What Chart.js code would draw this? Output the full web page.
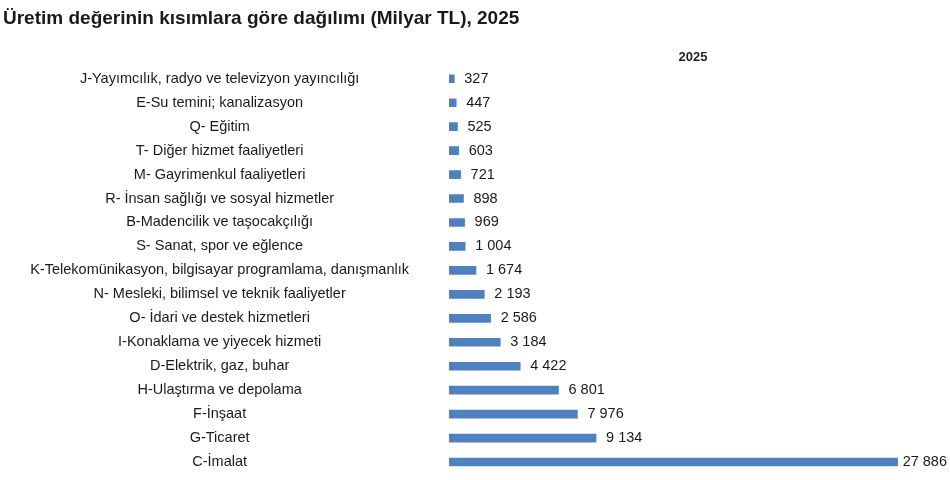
<!DOCTYPE html>
<html>
<head>
<meta charset="utf-8">
<script src="https://cdn.jsdelivr.net/npm/chart.js@4/dist/chart.umd.min.js"></script>
<style>
html,body{margin:0;padding:0;background:#fff;overflow:hidden;}
#wrap{width:950px;height:480px;position:relative;}
</style>
</head>
<body>
<div id="wrap"><canvas id="c"></canvas></div>
<script>
const titleText = 'Üretim değerinin kısımlara göre dağılımı (Milyar TL), 2025';
const seriesName = '2025';
const categories = [
  'J-Yayımcılık, radyo ve televizyon yayıncılığı',
  'E-Su temini; kanalizasyon',
  'Q- Eğitim',
  'T- Diğer hizmet faaliyetleri',
  'M- Gayrimenkul faaliyetleri',
  'R- İnsan sağlığı ve sosyal hizmetler',
  'B-Madencilik ve taşocakçılığı',
  'S- Sanat, spor ve eğlence',
  'K-Telekomünikasyon, bilgisayar programlama, danışmanlık',
  'N- Mesleki, bilimsel ve teknik faaliyetler',
  'O- İdari ve destek hizmetleri',
  'I-Konaklama ve yiyecek hizmeti',
  'D-Elektrik, gaz, buhar',
  'H-Ulaştırma ve depolama',
  'F-İnşaat',
  'G-Ticaret',
  'C-İmalat'
];
const values = [327, 447, 525, 603, 721, 898, 969, 1004, 1674, 2193, 2586, 3184, 4422, 6801, 7976, 9134, 27886];

function fmt(v){
  return String(v).replace(/\B(?=(\d{3})+(?!\d))/g, ' ');
}

const FAMILY = '"Liberation Sans", Arial, sans-serif';
const VALUE_FONT = '14.5px ' + FAMILY;

const valueLabels = {
  id: 'valueLabels',
  afterDatasetsDraw(chart){
    const ctx = chart.ctx;
    const meta = chart.getDatasetMeta(0);
    ctx.save();
    ctx.font = VALUE_FONT;
    ctx.fillStyle = '#1a1a1a';
    ctx.textBaseline = 'middle';
    ctx.textAlign = 'left';
    meta.data.forEach((bar, i) => {
      const t = fmt(chart.data.datasets[0].data[i]);
      const w = ctx.measureText(t).width;
      let x = bar.x + 10;
      x = Math.min(x, chart.width - w - 3);
      ctx.fillText(t, x, bar.y);
    });
    // series header
    ctx.font = 'bold 13px ' + FAMILY;
    ctx.textAlign = 'center';
    ctx.fillStyle = '#222';
    ctx.fillText(chart.data.datasets[0].label, 693, 57);
    ctx.restore();
  }
};

new Chart(document.getElementById('c'), {
  type: 'bar',
  data: {
    labels: categories,
    datasets: [{
      label: seriesName,
      data: values,
      backgroundColor: '#4F81BD',
      borderWidth: 0,
      barThickness: 8
    }]
  },
  options: {
    indexAxis: 'y',
    responsive: true,
    maintainAspectRatio: false,
    animation: false,
    layout: { padding: { left: 3, right: 52, top: 0, bottom: 6 } },
    plugins: {
      legend: { display: false },
      tooltip: { enabled: false },
      title: {
        display: true,
        text: titleText,
        align: 'start',
        color: '#1a1a1a',
        font: { family: FAMILY, size: 19, weight: 'bold' },
        padding: { top: 7, bottom: 37 }
      }
    },
    scales: {
      x: { display: false, min: 0, max: 27886 },
      y: {
        afterFit(scale){ scale.width = 446; },
        grid: { display: false, drawTicks: true, tickLength: 40 },
        border: { display: false },
        ticks: {
          crossAlign: 'center',
          padding: 0,
          color: '#1a1a1a',
          font: { family: FAMILY, size: 14.5, lineHeight: 0.6 }
        }
      }
    }
  },
  plugins: [valueLabels]
});
</script>
</body>
</html>
